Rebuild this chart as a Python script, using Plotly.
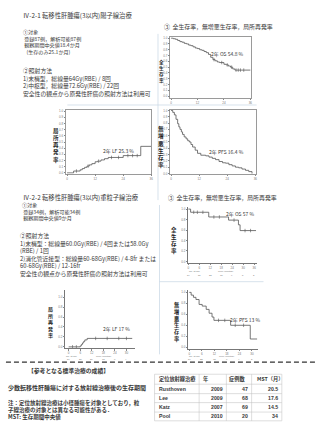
import plotly.graph_objects as go

W, H = 320, 427
FONT = "Noto Sans CJK JP"
INK = "#383838"

# ---------------- data ----------------
# IV-2-1 proton therapy (months, rate)
os1_months = [0, 1, 2, 3, 4, 5, 6, 7, 8, 9, 10, 11, 12, 13, 14, 15, 16, 17, 18, 19, 20, 21, 22, 24, 25, 26, 27, 28, 29, 36]
os1_rate = [1.0, 0.99, 0.98, 0.96, 0.94, 0.93, 0.91, 0.90, 0.88, 0.87, 0.85, 0.83, 0.82, 0.80, 0.79, 0.77, 0.75, 0.72,
            0.67, 0.63, 0.61, 0.59, 0.58, 0.55, 0.54, 0.52, 0.50, 0.47, 0.45, 0.45]
os1_censor = [19.5, 23, 25.5, 27.5, 29.5, 30.5, 31.5, 33]

lf1_months = [0, 2.8, 5.6, 6.5, 7.5, 8.5, 9.5, 10.6, 12, 13, 14.5, 16, 17.6, 24, 31.5, 36]
lf1_rate = [0, 0.03, 0.05, 0.07, 0.09, 0.11, 0.13, 0.15, 0.18, 0.19, 0.21, 0.23, 0.25, 0.28, 0.43, 0.43]
lf1_censor = [4, 9, 13.5, 19, 22, 26, 28, 30]

pfs1_months = [0, 0.7, 1.4, 2.1, 2.8, 3.3, 3.8, 4.4, 4.9, 5.6, 6.4, 7.1, 7.8, 8.5, 9.2, 10.3, 11.3, 12.7, 14.8, 16.2,
               17.6, 19.0, 20.5, 22.0, 23.3, 24.7, 26.1, 27.5, 28.9, 30.3, 31.8, 33.2, 34.6]
pfs1_rate = [1.0, 0.97, 0.93, 0.86, 0.79, 0.74, 0.70, 0.66, 0.62, 0.58, 0.55, 0.52, 0.50, 0.46, 0.42, 0.37, 0.32, 0.29,
             0.28, 0.26, 0.24, 0.22, 0.19, 0.17, 0.164, 0.14, 0.12, 0.10, 0.09, 0.07, 0.05, 0.03, 0.0]

# IV-2-2 carbon-ion therapy
os2_months = [0, 1.3, 11.2, 22, 27.4, 28.3, 37]
os2_rate = [1.0, 0.94, 0.85, 0.79, 0.70, 0.59, 0.59]
lf2_months = [0, 6, 6.6, 7.2, 7.8, 8.4, 9.6, 33]
lf2_rate = [0, 0.02, 0.05, 0.08, 0.11, 0.14, 0.17, 0.17]
pfs2_months = [0, 0.9, 2.0, 3.2, 4.7, 6.2, 8.1, 9.5, 10.9, 11.8, 19.8, 29.2, 32.5]
pfs2_rate = [1.0, 0.95, 0.91, 0.87, 0.78, 0.75, 0.69, 0.62, 0.55, 0.49, 0.40, 0.15, 0.15]

risk_os2 = [34, 31, 23, 15, 9, 5, 2]
risk_lf2 = [34, 28, 20, 13, 8, 4]
risk_pfs2 = [34, 22, 12, 7, 4, 2]

ref_studies = ["Rusthoven", "Lee", "Katz", "Pool"]
ref_years = [2009, 2009, 2007, 2010]
ref_cases = [47, 68, 69, 20]
ref_mst = ["20.5", "17.6", "14.5", "34"]
ref_header = ["定位放射線治療", "年", "症例数", "MST（月）"]


def X(p):
    return p / W


def Y(p):
    return 1 - p / H


def step_at(ts, vs, t):
    v = vs[0]
    for ti, vi in zip(ts, vs):
        if ti <= t:
            v = vi
    return v


fig = go.Figure()
ann = []
shapes = []

charts = [
    dict(t=os1_months, v=os1_rate, c=os1_censor, xd=(171, 252.5), yd=(36.5, 97.5), xr=[-0.3, 36.35],
         yr=[-0.031, 1.014], xt=[0, 12, 24, 36], yt=[i / 10 for i in range(11)], box=True),
    dict(t=lf1_months, v=lf1_rate, c=lf1_censor, xd=(65.7, 151.7), yd=(110, 173.5), xr=[-0.42, 36],
         yr=[-0.013, 1.011], xt=[0, 12, 24, 36], yt=[i / 10 for i in range(11)], box=True),
    dict(t=pfs1_months, v=pfs1_rate, c=[], xd=(171, 257.3), yd=(109.5, 174), xr=[-0.3, 36.25],
         yr=[-0.011, 1.008], xt=[0, 12, 24, 36], yt=[i / 10 for i in range(11)], box=True),
    dict(t=os2_months, v=os2_rate, c=[3, 5, 8, 14, 17, 25, 31, 34], xd=(189, 258), yd=(207, 263), xr=[0, 37.3],
         yr=[-0.025, 1.04], xt=[0, 6, 12, 18, 24, 30, 36], yt=[0, 0.2, 0.4, 0.6, 0.8, 1.0], box=False),
    dict(t=lf2_months, v=lf2_rate, c=[2, 4, 14, 20, 26, 30], xd=(65, 135), yd=(290, 349), xr=[-1.7, 34.3],
         yr=[-0.03, 1.15], xt=[0, 6, 12, 18, 24, 30], yt=[0, 0.2, 0.4, 0.6, 0.8, 1.0], box=False),
    dict(t=pfs2_months, v=pfs2_rate, c=[14, 17, 22, 26], xd=(189, 259), yd=(290, 349.5), xr=[-0.5, 32.7],
         yr=[-0.03, 1.05], xt=[0, 6, 12, 18, 24, 30], yt=[0, 0.2, 0.4, 0.6, 0.8, 1.0], box=False),
]

for i, ch in enumerate(charts, start=1):
    sx = "" if i == 1 else str(i)
    xa, ya = "x" + sx, "y" + sx
    fig.add_trace(go.Scatter(x=ch["t"], y=ch["v"], mode="lines", xaxis=xa, yaxis=ya,
                             line=dict(shape="hv", color="#555", width=0.8), hoverinfo="skip", showlegend=False))
    if ch["c"]:
        fig.add_trace(go.Scatter(x=ch["c"], y=[step_at(ch["t"], ch["v"], c) for c in ch["c"]], mode="markers",
                                 xaxis=xa, yaxis=ya, marker=dict(symbol="line-ns", size=2.5,
                                                                 line=dict(color="#555", width=0.6)),
                                 hoverinfo="skip", showlegend=False))
    common = dict(showgrid=False, zeroline=False, showline=True, linewidth=0.6,
                  linecolor="#9a9a9a" if ch["box"] else "#777", mirror=ch["box"],
                  ticks="outside", ticklen=1.5, tickwidth=0.5, tickcolor="#888",
                  tickfont=dict(size=3, color="#777", family="Arial"), fixedrange=True)
    ylab = ["%.1f" % v for v in ch["yt"]]
    fig.update_layout(**{
        ("xaxis" if i == 1 else "xaxis%d" % i): dict(common, domain=[X(ch["xd"][0]), X(ch["xd"][1])],
                                                     range=ch["xr"], tickvals=ch["xt"], anchor=ya),
        ("yaxis" if i == 1 else "yaxis%d" % i): dict(common, domain=[Y(ch["yd"][1]), Y(ch["yd"][0])],
                                                     range=ch["yr"], tickvals=ch["yt"], ticktext=ylab, anchor=xa),
    })

# number-at-risk rows (tiny)
for idx, risk, y1, y2 in [(4, risk_os2, 271.5, 275.5), (5, risk_lf2, 356.8, 360.2), (6, risk_pfs2, 357.2, 360.4)]:
    xt = charts[idx - 1]["xt"]
    for tv, n in zip(xt, risk):
        ann.append(dict(xref="x%d" % idx, yref="paper", x=tv, y=Y(y2), text=str(n), showarrow=False,
                        font=dict(size=2.4, color="#777", family="Arial"), xanchor="center", yanchor="middle"))
    ch = charts[idx - 1]
    ann.append(dict(xref="paper", yref="paper", x=X(ch["xd"][0] - 1), y=Y(y1), text="No. at risk",
                    showarrow=False, font=dict(size=2.4, color="#777", family="Arial"), xanchor="left",
                    yanchor="middle"))
    ann.append(dict(xref="paper", yref="paper", x=X((ch["xd"][0] + ch["xd"][1]) / 2 + 4), y=Y(y1),
                    text="Time (months)", showarrow=False, font=dict(size=2.4, color="#777", family="Arial"),
                    xanchor="center", yanchor="middle"))


def txt(x, y, s, size=6, color=INK, anchor="left", bold=False, family=FONT, yanchor="middle"):
    ann.append(dict(xref="paper", yref="paper", x=X(x), y=Y(y), text=("<b>%s</b>" % s) if bold else s,
                    showarrow=False, font=dict(size=size, color=color, family=family), xanchor=anchor,
                    yanchor=yanchor, align="left"))


def block(x, y_first, lines, size):
    # multi-line paragraph; plotly line pitch is 1.3 x font size
    n = len(lines)
    yc = y_first + (n - 1) * 1.3 * size / 2
    txt(x, yc, "<br>".join(lines), size=size)


def vtxt(x, y_center, s, size=5.5):
    # Japanese vertical axis title: upright characters stacked
    txt(x, y_center, "<br>".join(s), size=size, anchor="center", bold=True, color="#1e1e1e")


NB = "&nbsp;"

# ----- section 1 text -----
txt(20, 15, "Ⅳ-2-1 転移性肝腫瘍(3以内)陽子線治療", 6.3)
block(20, 31.5, ["①対象",
                 NB + "登録87例，解析可能87例",
                 NB + "観察期間中央値18.4か月",
                 NB * 3 + "(生存のみ25.1か月)"], 5.1)
block(20, 70, ["②照射方法",
               "1)末梢型，総線量64Gy(RBE) / 8回",
               "2)中枢型，総線量72.6Gy(RBE) / 22回",
               "安全性の観点から原発性肝癌の照射方法は利用可"], 5.8)
txt(163, 26, "③  全生存率，無増悪生存率，局所再発率", 5.9)

vtxt(162.3, 70.5, "全生存率", 4.6)
vtxt(55.3, 145, "局所再発率", 5.5)
vtxt(162, 147, "無増悪生存率", 5.6)

txt(229, 53, "2年 OS 54.8 %", 5, anchor="center")
txt(119, 151, "2年 LF 25.3 %", 5, anchor="center")
txt(228, 152, "2年 PFS 16.4 %", 5, anchor="center")

# ----- section 2 text -----
txt(20, 197, "Ⅳ-2-2 転移性肝腫瘍(3以内)重粒子線治療", 6.3)
txt(167, 197, "③  全生存率，無増悪生存率，局所再発率", 5.9)
block(19, 204.5, ["①対象",
                  NB + "登録34例，解析可能34例",
                  NB + "観察期間中央値9か月"], 5.1)
block(17, 236, ["②照射方法",
                "1)末梢型：総線量60.0Gy(RBE) / 4回または58.0Gy",
                "(RBE) / 1回",
                "2)消化管近接型：総線量60-68Gy(RBE) / 4-8fr または",
                "60-68Gy(RBE) / 12-16fr",
                "安全性の観点から原発性肝癌の照射方法は利用可"], 5.8)

vtxt(175, 241, "全生存率", 5.5)
vtxt(50, 323, "局所再発率", 5)
vtxt(178, 323, "無増悪生存率", 5.2)

txt(241, 214, "2年 OS 57 %", 5, anchor="center")
txt(117, 330, "2年 LF 17 %", 5, anchor="center")
txt(246, 321, "2年 PFS 13 %", 5, anchor="center")

# ----- bottom -----
txt(25, 371.7, "【参考となる標準治療の成績】", 5.8, bold=True)
txt(5, 388.5, "少数転移性肝腫瘍に対する放射線治療後の生存期間", 6, bold=True)
txt(5, 410.5, "注：定位放射線治療は小径腫瘍を対象としており，粒<br>子線治療の対象とは異なる可能性がある．<br>MST: 生存期間中央値",
    5.5, bold=True)

# table
row_y = [380, 389.8, 399, 408.2, 417.3]
txt(157, row_y[0], ref_header[0], 5.2, bold=True)
txt(201.5, row_y[0], ref_header[1], 5.2, bold=True)
txt(228.5, row_y[0], ref_header[2], 5.2, bold=True)
txt(256.5, row_y[0], ref_header[3], 5.2, bold=True)
for r, (s, yv, n, m) in enumerate(zip(ref_studies, ref_years, ref_cases, ref_mst)):
    yy = row_y[r + 1]
    txt(157, yy, s, 5.2, bold=True, family="Arial")
    txt(226.3, yy, str(yv), 5.2, anchor="right", bold=True, family="Arial")
    txt(251, yy, str(n), 5.2, anchor="right", bold=True, family="Arial")
    txt(282, yy, m, 5.2, anchor="right", bold=True, family="Arial")


def line(x0, y0, x1, y1, color, width=0.6, dash=None):
    d = dict(type="line", xref="paper", yref="paper", x0=X(x0), y0=Y(y0), x1=X(x1), y1=Y(y1),
             line=dict(color=color, width=width))
    if dash:
        d["line"]["dash"] = dash
    shapes.append(d)


grid_c = "#bdbdbd"
for yb in [375, 385, 394.5, 403.5, 413, 421.8]:
    line(155, yb, 283.5, yb, grid_c, 0.5)
for xb in [155, 200, 227.5, 253, 283.5]:
    line(xb, 375, xb, 421.8, grid_c, 0.5)

# faint slide frame lines
frame_c = "#c5d5e4"
line(158.5, 33, 158.5, 200, frame_c, 0.7)
line(67, 104.5, 258, 104.5, frame_c, 0.7)
line(160, 205, 160, 355, frame_c, 0.7)
line(160, 282, 265, 282, frame_c, 0.7)

# dashed separator
line(5, 362.8, 318, 362.8, "#333", 1.4, dash="5px,3px")

fig.update_layout(width=W, height=H, margin=dict(l=0, r=0, t=0, b=0), paper_bgcolor="white",
                  plot_bgcolor="white", annotations=ann, shapes=shapes, showlegend=False)
fig.write_html("out.html", config={"displayModeBar": False})
